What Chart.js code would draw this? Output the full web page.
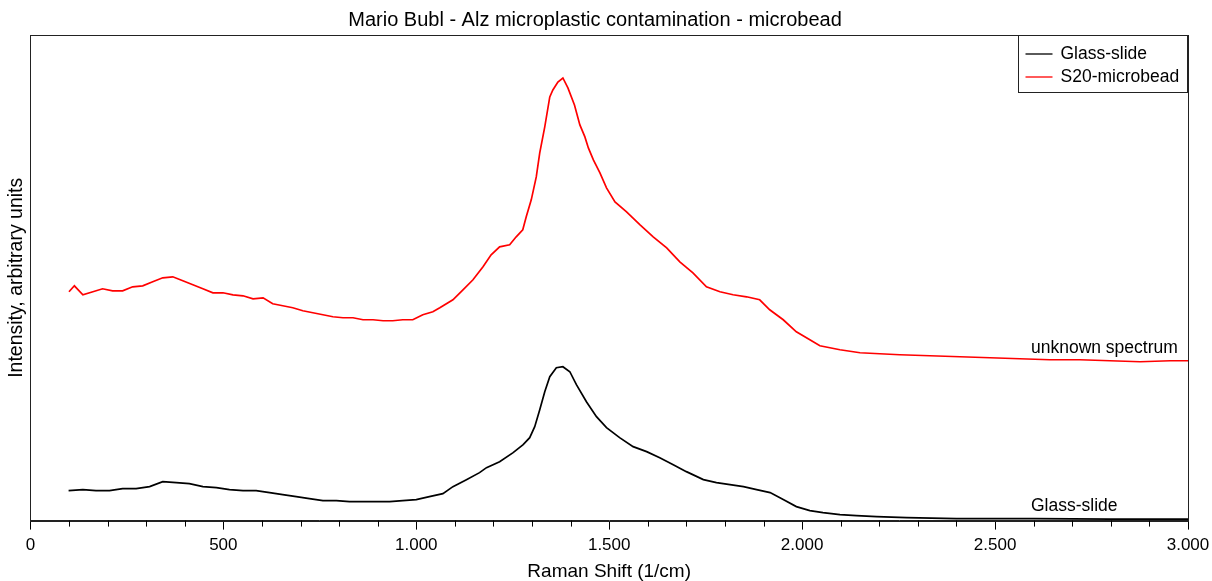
<!DOCTYPE html>
<html>
<head>
<meta charset="utf-8">
<script src="https://cdn.jsdelivr.net/npm/chart.js@4.4.1/dist/chart.umd.min.js"></script>
<style>
  html, body { margin: 0; padding: 0; background: #fff; }
  #wrap { width: 1212px; height: 581px; }
</style>
</head>
<body>
<div id="wrap"><canvas id="chart"></canvas></div>
<script>
const redShift = [100, 114, 136, 162, 187, 213, 239, 265, 291, 317, 343, 369, 395, 421, 447, 473, 499, 525, 551, 577,
    603, 628, 654, 680, 706, 732, 758, 784, 810, 836, 862, 888, 914, 939, 965, 991, 1017, 1043, 1061, 1095,
    1121, 1147, 1173, 1194, 1216, 1242, 1259, 1276, 1285, 1298, 1311, 1320, 1333, 1346, 1354, 1367, 1380, 1393, 1410, 1424,
    1437, 1446, 1459, 1476, 1493, 1515, 1545, 1580, 1614, 1649, 1683, 1717, 1752, 1787, 1821, 1856, 1890, 1916, 1951, 1985,
    2020, 2046, 2098, 2150, 2201, 2253, 2331, 2409, 2487, 2564, 2642, 2720, 2798, 2876, 2954, 3000];
const redIntensity = [229, 235, 226, 229, 232, 230, 230, 234, 235, 239, 243, 244, 240, 236, 232, 228, 228, 226, 225, 222,
    223, 217, 215, 213, 210, 208, 206, 204, 203, 203, 201, 201, 200, 200, 201, 201, 206, 209, 213, 221,
    231, 241, 254, 266, 274, 276, 284, 291, 304, 321, 344, 368, 394, 424, 431, 439, 443, 433, 416, 396,
    384, 373, 361, 348, 333, 319, 309, 296, 284, 273, 259, 248, 234, 229, 226, 224, 221, 211, 201, 189,
    181, 175, 171, 168, 167, 166, 165, 164, 163, 162, 161, 161, 160, 159, 160, 160];

const blackShift = [99, 136, 170, 205, 239, 274, 309, 343, 378, 412, 447, 482, 516, 551, 585, 620, 654, 689, 723, 758,
    793, 827, 862, 896, 931, 965, 1000, 1034, 1069, 1095, 1130, 1164, 1182, 1216, 1251, 1277, 1294, 1307, 1320, 1333,
    1346, 1363, 1380, 1398, 1415, 1441, 1467, 1493, 1527, 1562, 1597, 1631, 1666, 1700, 1744, 1778, 1813, 1848, 1882, 1917,
    1951, 1985, 2020, 2054, 2098, 2141, 2193, 2271, 2400, 2600, 2800, 3000];
const blackIntensity = [30, 31, 30, 30, 32, 32, 34, 39, 38, 37, 34, 33, 31, 30, 30, 28, 26, 24, 22, 20,
    20, 19, 19, 19, 19, 20, 21, 24, 27, 34, 41, 48, 53, 59, 68, 76, 83, 94, 111, 129,
    144, 153, 154, 149, 136, 119, 104, 93, 83, 74, 69, 63, 56, 49, 41, 38, 36, 34, 31, 28,
    21, 14, 10, 8, 6, 5, 4, 3, 2, 2, 1.5, 1.5];

const seriesNames = ["Glass-slide", "S20-microbead"];
const seriesColors = ["#000000", "#ff0000"];

// curve labels next to the spectra
const noteText = ["unknown spectrum", "Glass-slide"];
const noteShift = [2593, 2593];
const noteIntensity = [173, 14];

const xTicks = [0, 500, 1000, 1500, 2000, 2500, 3000];

const FONT = "'Liberation Sans', Arial, sans-serif";

function thousands(v) {
    return String(v).replace(/\B(?=(\d{3})+(?!\d))/g, ".");
}

function toPoints(xs, ys) {
    return xs.map((x, i) => ({ x: x, y: ys[i] }));
}

// frame, minor ticks, legend box and curve notes
const extras = {
    id: "extras",
    afterDraw(chart) {
        const { ctx, chartArea: a, scales } = chart;
        const xs = scales.x, ys = scales.y;
        ctx.save();
        ctx.strokeStyle = "#222";
        ctx.lineWidth = 1;
        ctx.strokeRect(Math.round(a.left) + 0.5, Math.round(a.top) + 0.5,
            Math.round(a.right - a.left), Math.round(a.bottom - a.top));

        // minor ticks every 100
        ctx.strokeStyle = "#000";
        ctx.beginPath();
        for (let v = 100; v < 3000; v += 100) {
            if (v % 500 === 0) continue;
            const px = Math.round(xs.getPixelForValue(v)) + 0.5;
            ctx.moveTo(px, a.bottom);
            ctx.lineTo(px, a.bottom + 6);
        }
        ctx.stroke();

        // legend
        const bx = Math.round(a.right) - 169.5, by = Math.round(a.top) + 0.5;
        ctx.fillStyle = "#fff";
        ctx.fillRect(bx, by, 169, 57);
        ctx.strokeStyle = "#222";
        ctx.strokeRect(bx, by, 169, 57);
        ctx.font = "17.5px " + FONT;
        ctx.textBaseline = "middle";
        ctx.textAlign = "left";
        chart.data.datasets.forEach((ds, i) => {
            const ly = by + 18.5 + i * 23;
            ctx.strokeStyle = ds.borderColor;
            ctx.lineWidth = 1.3;
            ctx.beginPath();
            ctx.moveTo(bx + 7, ly);
            ctx.lineTo(bx + 34, ly);
            ctx.stroke();
            ctx.fillStyle = "#000";
            ctx.fillText(ds.label, bx + 42, ly);
        });

        noteText.forEach((t, i) => {
            ctx.fillStyle = "#000";
            ctx.fillText(t, xs.getPixelForValue(noteShift[i]), ys.getPixelForValue(noteIntensity[i]));
        });
        ctx.restore();
    }
};

new Chart(document.getElementById("chart"), {
    type: "line",
    data: {
        datasets: [{
            label: seriesNames[0],
            data: toPoints(blackShift, blackIntensity),
            borderColor: seriesColors[0],
            borderWidth: 1.7,
            pointRadius: 0,
            tension: 0
        }, {
            label: seriesNames[1],
            data: toPoints(redShift, redIntensity),
            borderColor: seriesColors[1],
            borderWidth: 1.7,
            pointRadius: 0,
            tension: 0
        }]
    },
    options: {
        responsive: true,
        maintainAspectRatio: false,
        animation: false,
        layout: { padding: { left: 2, right: 24, bottom: 0, top: 0 } },
        plugins: {
            legend: { display: false },
            tooltip: { enabled: false },
            title: {
                display: true,
                text: "Mario Bubl - Alz microplastic contamination - microbead",
                color: "#000",
                font: { family: FONT, size: 20, weight: "normal" },
                padding: { top: 8, bottom: 3 }
            }
        },
        scales: {
            x: {
                type: "linear",
                min: 0,
                max: 3000,
                afterBuildTicks: (scale) => { scale.ticks = xTicks.map(v => ({ value: v })); },
                afterFit: (scale) => { scale.paddingRight = 0; },
                ticks: {
                    color: "#000",
                    padding: 6,
                    maxRotation: 0,
                    font: { family: FONT, size: 17 },
                    callback: (v) => thousands(v)
                },
                grid: { display: true, drawOnChartArea: false, drawTicks: true, tickLength: 9, color: "#000" },
                border: { display: true, color: "#222" },
                title: {
                    display: true,
                    text: "Raman Shift (1/cm)",
                    color: "#000",
                    font: { family: FONT, size: 19, lineHeight: 1 },
                    padding: { top: 0, bottom: 0 }
                }
            },
            y: {
                min: 0,
                max: 486,
                ticks: { display: false },
                grid: { display: false, drawTicks: false },
                border: { display: true, color: "#222" },
                title: {
                    display: true,
                    text: "Intensity, arbitrary units",
                    color: "#000",
                    font: { family: FONT, size: 19.5 },
                    padding: { top: 3, bottom: 2 }
                }
            }
        }
    },
    plugins: [extras]
});
</script>
</body>
</html>
